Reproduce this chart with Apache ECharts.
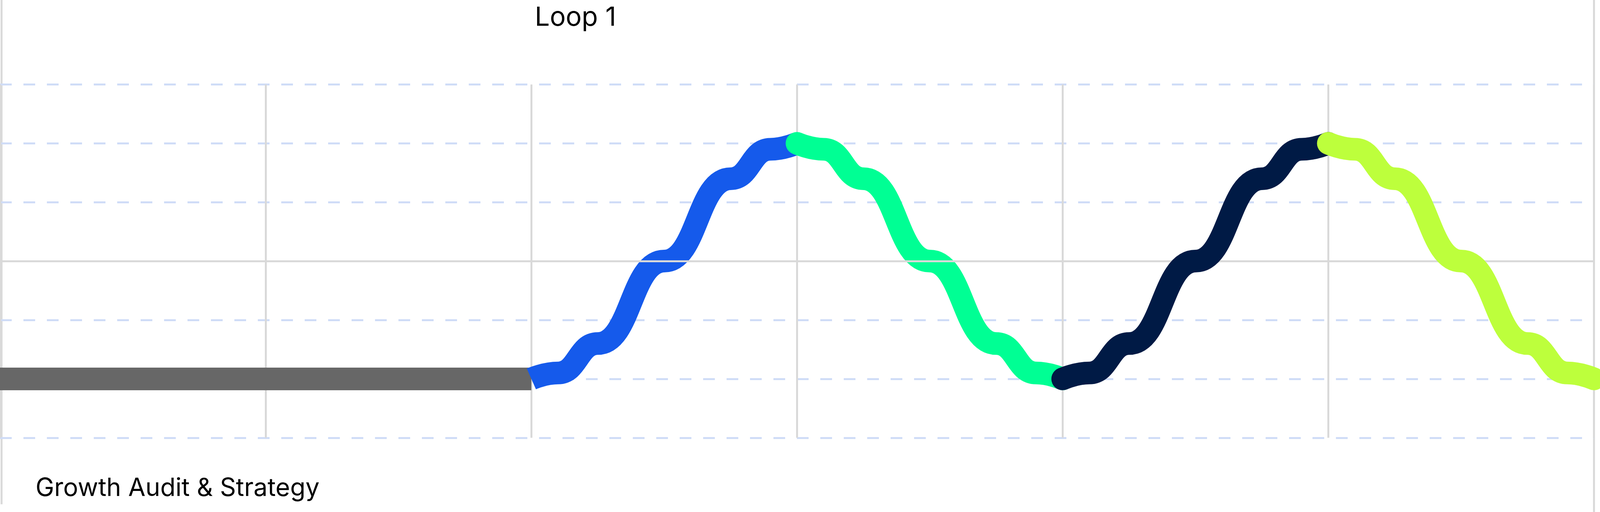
<!DOCTYPE html>
<html>
<head>
<meta charset="utf-8">
<script src="https://cdn.jsdelivr.net/npm/echarts@6/dist/echarts.min.js"></script>
<style>
  html, body { margin: 0; padding: 0; background: #fff; overflow: hidden; }
  #chart { width: 100vw; height: 100vh; }
</style>
</head>
<body>
<div id="chart"></div>
<script>
// phase labels
var loopLabel = 'Loop 1';
var phaseLabel = 'Growth Audit & Strategy';

// x positions (phase steps) and levels
var flatX = [0, 2];
var flatY = [1, 1];
var blueX = [2, 2.1, 2.25, 2.5, 2.75, 2.9, 3];
var blueY = [1, 1.1, 1.6, 3, 4.4, 4.9, 5];
var greenX = [3, 3.1, 3.25, 3.5, 3.75, 3.9, 4];
var greenY = [5, 4.9, 4.4, 3, 1.6, 1.1, 1];
var navyX = [4, 4.1, 4.25, 4.5, 4.75, 4.9, 5];
var navyY = [1, 1.1, 1.6, 3, 4.4, 4.9, 5];
var limeX = [5, 5.1, 5.25, 5.5, 5.75, 5.9, 6];
var limeY = [5, 4.9, 4.4, 3, 1.6, 1.1, 1];

function pairs(xs, ys) {
    return xs.map(function (x, i) { return [x, ys[i]]; });
}

var chart = echarts.init(document.getElementById('chart'));
var W = chart.getWidth();
var H = chart.getHeight();

function wave(name, xs, ys, color, z, cap) {
    return {
        name: name,
        type: 'line',
        data: pairs(xs, ys),
        smooth: 0.5,
        smoothMonotone: 'x',
        showSymbol: false,
        silent: true,
        z: z,
        lineStyle: { color: color, width: 58, cap: cap }
    };
}

chart.setOption({
    animation: false,
    title: [{
        text: loopLabel,
        left: '33.3%',
        top: '0.5%',
        textStyle: { fontFamily: 'Inter', fontSize: 68, fontWeight: 'normal', color: '#000' }
    }, {
        text: phaseLabel,
        left: '2.1%',
        top: '92.6%',
        textStyle: { fontFamily: 'Inter', fontSize: 64, fontWeight: 'normal', color: '#000' }
    }],
    grid: { left: 0, right: '0.375%', top: '16.5%', bottom: '14.5%' },
    xAxis: {
        type: 'value',
        min: 0,
        max: 6,
        interval: 1,
        axisLine: { show: false },
        axisTick: { show: false },
        axisLabel: { show: false },
        splitLine: { show: true, lineStyle: { color: '#d9d9d9', width: 5 } }
    },
    yAxis: {
        type: 'value',
        min: 0,
        max: 6,
        interval: 1,
        axisLine: { show: false },
        axisTick: { show: false },
        axisLabel: { show: false },
        splitLine: { show: true, lineStyle: { color: '#cfdcf7', width: 5, type: [30, 30] } }
    },
    graphic: [
        { type: 'line', shape: { x1: 4, y1: 0, x2: 4, y2: H * 0.985 }, style: { stroke: '#d9d9d9', lineWidth: 5 } },
        { type: 'line', shape: { x1: W * 0.99625, y1: 0, x2: W * 0.99625, y2: H }, style: { stroke: '#d9d9d9', lineWidth: 5 } }
    ],
    series: [
        {
            name: 'flat',
            type: 'line',
            data: pairs(flatX, flatY),
            showSymbol: false,
            silent: true,
            z: 2,
            lineStyle: { color: '#676767', width: 58, cap: 'butt' },
            markLine: {
                silent: true,
                symbol: 'none',
                label: { show: false },
                lineStyle: { color: '#d9d9d9', width: 5, type: 'solid' },
                data: [{ yAxis: 3 }]
            }
        },
        wave('blue', blueX, blueY, '#155aeb', 3, 'butt'),
        wave('green', greenX, greenY, '#00ff94', 4, 'round'),
        wave('navy', navyX, navyY, '#001a45', 5, 'round'),
        wave('lime', limeX, limeY, '#bdff3c', 6, 'round')
    ]
});
</script>
</body>
</html>
